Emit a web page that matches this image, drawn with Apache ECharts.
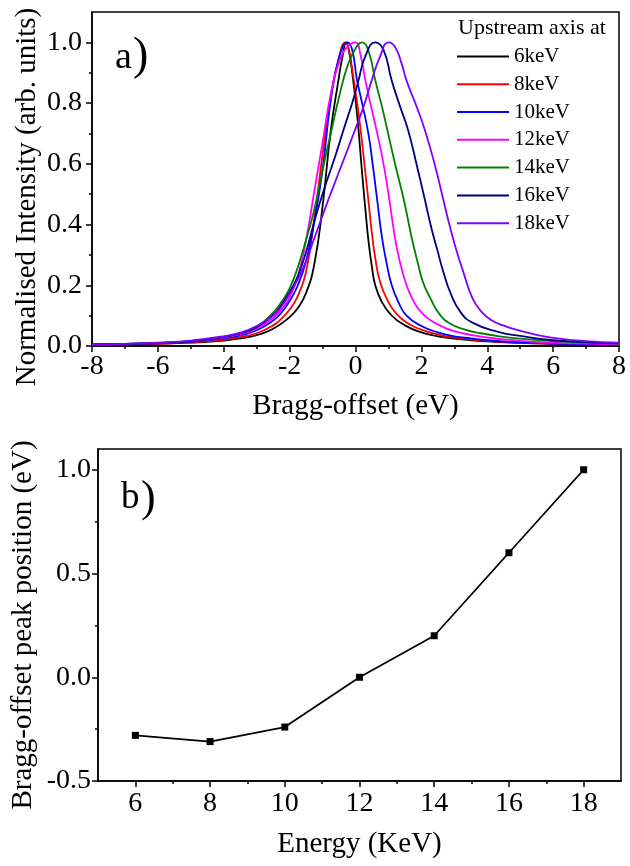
<!DOCTYPE html>
<html>
<head>
<meta charset="utf-8">
<script src="https://cdn.jsdelivr.net/npm/echarts@6/dist/echarts.min.js"></script>
<style>
html,body{margin:0;padding:0;background:#fff;}
#chart{width:630px;height:866px;}
</style>
</head>
<body>
<div id="chart"></div>
<script>
// ---------- Panel a: tick labels ----------
const xTicksA = [-8, -6, -4, -2, 0, 2, 4, 6, 8];
const xMinorA = [-7, -5, -3, -1, 1, 3, 5, 7];
const yTicksA = [0, 0.2, 0.4, 0.6, 0.8, 1.0];
const yMinorA = [0.1, 0.3, 0.5, 0.7, 0.9];

// ---------- Panel a: curves [Bragg-offset (eV), normalised intensity] ----------
const seriesNamesA = ['6keV', '8keV', '10keV', '12keV', '14keV', '16keV', '18keV'];
const curve6keV = [[-8,0.004],[-7,0.005],[-6,0.007],[-5,0.011],[-4,0.018],[-3.5,0.025],[-3,0.036],[-2.5,0.057],[-2,0.095],[-1.75,0.125],[-1.5,0.175],[-1.25,0.27],[-1.0,0.46],[-0.75,0.71],[-0.52,0.874],[-0.4,0.95],[-0.28,1.0],[-0.18,0.96],[-0.1,0.9],[0.05,0.76],[0.2,0.57],[0.3,0.45],[0.4,0.34],[0.5,0.26],[0.6,0.2],[0.8,0.145],[1.1,0.1],[1.5,0.068],[2,0.045],[2.5,0.032],[3,0.024],[4,0.015],[5,0.01],[6,0.007],[7,0.005],[8,0.004]];
const curve8keV = [[-8,0.004],[-7,0.005],[-6,0.008],[-5,0.012],[-4,0.021],[-3.5,0.029],[-3,0.042],[-2.5,0.068],[-2.25,0.09],[-2,0.12],[-1.75,0.165],[-1.5,0.245],[-1.25,0.42],[-1.0,0.63],[-0.75,0.82],[-0.5,0.95],[-0.31,1.0],[-0.2,0.975],[-0.1,0.91],[0.1,0.76],[0.25,0.62],[0.39,0.48],[0.5,0.37],[0.6,0.29],[0.75,0.21],[1.0,0.145],[1.25,0.105],[1.6,0.074],[2,0.054],[2.5,0.038],[3,0.028],[4,0.017],[5,0.011],[6,0.008],[7,0.006],[8,0.004]];
const curve10keV = [[-8,0.005],[-7,0.006],[-6,0.009],[-5,0.014],[-4,0.025],[-3.5,0.035],[-3,0.052],[-2.5,0.084],[-2.25,0.11],[-2,0.148],[-1.75,0.2],[-1.5,0.28],[-1.25,0.41],[-1.0,0.58],[-0.75,0.81],[-0.5,0.95],[-0.24,1.0],[-0.1,0.975],[0.04,0.88],[0.2,0.8],[0.39,0.7],[0.52,0.6],[0.66,0.48],[0.8,0.36],[0.95,0.27],[1.1,0.2],[1.3,0.145],[1.55,0.1],[2,0.066],[2.5,0.045],[3,0.032],[3.5,0.025],[4,0.019],[5,0.012],[6,0.008],[7,0.006],[8,0.005]];
const curve12keV = [[-8,0.005],[-7,0.007],[-6,0.01],[-5,0.016],[-4,0.028],[-3.5,0.039],[-3,0.058],[-2.5,0.092],[-2.25,0.12],[-2,0.16],[-1.75,0.23],[-1.5,0.35],[-1.25,0.51],[-1.0,0.67],[-0.75,0.83],[-0.5,0.935],[-0.25,0.985],[0,1.0],[0.15,0.96],[0.3,0.875],[0.45,0.8],[0.64,0.71],[0.85,0.6],[1.03,0.48],[1.15,0.39],[1.3,0.3],[1.55,0.2],[1.8,0.14],[2.05,0.105],[2.3,0.083],[2.75,0.058],[3.25,0.042],[4,0.028],[5,0.017],[6,0.011],[7,0.008],[8,0.006]];
const curve14keV = [[-8,0.005],[-7,0.007],[-6,0.01],[-5,0.016],[-4,0.03],[-3.5,0.042],[-3,0.063],[-2.5,0.11],[-2.25,0.145],[-2,0.19],[-1.75,0.26],[-1.5,0.35],[-1.25,0.45],[-1.0,0.58],[-0.75,0.7],[-0.5,0.82],[-0.25,0.92],[0,0.98],[0.2,1.0],[0.4,0.97],[0.6,0.875],[0.8,0.79],[0.97,0.71],[1.2,0.6],[1.47,0.48],[1.7,0.36],[1.9,0.27],[2.05,0.21],[2.26,0.16],[2.55,0.105],[2.87,0.074],[3.3,0.055],[3.8,0.042],[4.5,0.03],[5,0.024],[6,0.016],[7,0.011],[8,0.008]];
const curve16keV = [[-8,0.005],[-7,0.007],[-6,0.01],[-5,0.016],[-4,0.03],[-3.5,0.042],[-3,0.062],[-2.5,0.102],[-2.25,0.135],[-2,0.178],[-1.75,0.23],[-1.5,0.31],[-1.25,0.41],[-1.06,0.48],[-0.85,0.55],[-0.6,0.63],[-0.37,0.71],[-0.1,0.8],[0.09,0.874],[0.3,0.955],[0.6,1.0],[0.85,0.975],[1.1,0.874],[1.35,0.79],[1.6,0.71],[1.85,0.6],[2.11,0.48],[2.3,0.39],[2.5,0.31],[2.65,0.25],[2.9,0.17],[3.2,0.11],[3.55,0.077],[4.3,0.047],[5,0.033],[6,0.019],[7,0.013],[8,0.009]];
const curve18keV = [[-8,0.005],[-7,0.007],[-6,0.011],[-5,0.018],[-4,0.032],[-3.5,0.044],[-3,0.066],[-2.5,0.1],[-2.25,0.13],[-2,0.172],[-1.75,0.22],[-1.5,0.28],[-1.25,0.355],[-1.0,0.43],[-0.83,0.48],[-0.55,0.56],[-0.3,0.63],[-0.02,0.71],[0.25,0.79],[0.49,0.874],[0.75,0.955],[1.0,1.0],[1.2,0.985],[1.4,0.93],[1.55,0.874],[1.85,0.79],[2.11,0.71],[2.4,0.6],[2.67,0.48],[2.85,0.4],[3.05,0.32],[3.27,0.245],[3.56,0.155],[3.85,0.11],[4.13,0.085],[4.5,0.067],[4.9,0.053],[5.5,0.037],[6,0.027],[7,0.016],[8,0.011]];
const curvesA = [curve6keV, curve8keV, curve10keV, curve12keV, curve14keV, curve16keV, curve18keV];
const coloursA = ['#000000', '#ff0000', '#0000ff', '#ff00ff', '#008000', '#000080', '#8000ff'];

// ---------- Panel b ----------
const energies = [6, 8, 10, 12, 14, 16, 18];
const peakPositions = [-0.28, -0.31, -0.24, 0.0, 0.2, 0.6, 1.0];
const xTicksB = [6, 8, 10, 12, 14, 16, 18];
const xMinorB = [7, 9, 11, 13, 15, 17];
const yTicksB = [-0.5, 0.0, 0.5, 1.0];
const yMinorB = [-0.25, 0.25, 0.75];

const FONT = "'Liberation Serif','Times New Roman',serif";
const BLACK = '#000';

function majorAxis(opts) {
  return {
    gridIndex: opts.grid, type: 'value', min: opts.min, max: opts.max,
    position: opts.position,
    axisLine: { show: true, onZero: false, lineStyle: { color: BLACK, width: 1.5 } },
    axisTick: { show: true, inside: false, length: 6, customValues: opts.ticks, lineStyle: { color: BLACK, width: 1.5 } },
    axisLabel: { show: true, customValues: opts.ticks, margin: opts.margin, fontSize: 28, fontFamily: FONT, color: BLACK, formatter: opts.fmt },
    splitLine: { show: false },
    name: opts.name, nameLocation: 'middle', nameGap: opts.nameGap, nameMoveOverlap: false,
    nameTextStyle: { fontSize: 29, fontFamily: FONT, color: BLACK, padding: opts.namePad || 0 }
  };
}
function minorAxis(opts) {
  return {
    gridIndex: opts.grid, type: 'value', min: opts.min, max: opts.max,
    position: opts.position,
    axisLine: { show: false, onZero: false },
    axisTick: { show: true, inside: false, length: 3, customValues: opts.ticks, lineStyle: { color: BLACK, width: 1.5 } },
    axisLabel: { show: false },
    splitLine: { show: false }
  };
}

const oneDec = v => v.toFixed(1);
const intFmt = v => String(v);

const seriesA = seriesNamesA.map((n, i) => ({
  name: n, type: 'line', xAxisIndex: 0, yAxisIndex: 0,
  data: curvesA[i], showSymbol: false, symbol: 'none',
  smooth: 0.5,
  lineStyle: { color: coloursA[i], width: 1.8 },
  itemStyle: { color: coloursA[i] },
  z: 10 + i
}));

const option = {
  animation: false,
  backgroundColor: '#fff',
  textStyle: { fontFamily: FONT },
  title: [{
    text: 'Upstream axis at', left: 458, top: 17, padding: 0,
    textStyle: { fontSize: 22, fontWeight: 'normal', fontFamily: FONT, color: BLACK }
  }],
  legend: {
    data: seriesNamesA, orient: 'vertical', left: 457, top: 42.5, padding: 0,
    icon: 'rect', itemWidth: 52, itemHeight: 2, itemGap: 0, selectedMode: false,
    textStyle: { fontSize: 21, fontFamily: FONT, color: BLACK, lineHeight: 27.8 }
  },
  graphic: [
    { type: 'text', left: 115, top: 39, style: { text: 'a', font: "38px 'Liberation Serif'", fill: BLACK } },
    { type: 'text', left: 133, top: 34, style: { text: ')', font: "46px 'Liberation Serif'", fill: BLACK } },
    { type: 'text', left: 121, top: 479.5, style: { text: 'b', font: "37px 'Liberation Serif'", fill: BLACK } },
    { type: 'text', left: 141, top: 477.5, style: { text: ')', font: "44px 'Liberation Serif'", fill: BLACK } }
  ],
  grid: [
    { left: 92, top: 12, width: 527, height: 334, show: true, borderColor: BLACK, borderWidth: 1.5, backgroundColor: 'transparent', outerBoundsMode: 'none', containLabel: false },
    { left: 98, top: 449, width: 523, height: 332, show: true, borderColor: BLACK, borderWidth: 1.5, backgroundColor: 'transparent', outerBoundsMode: 'none', containLabel: false }
  ],
  xAxis: [
    majorAxis({ grid: 0, min: -8, max: 8, position: 'bottom', ticks: xTicksA, margin: 7, fmt: intFmt, name: 'Bragg-offset (eV)', nameGap: 46 }),
    minorAxis({ grid: 0, min: -8, max: 8, position: 'bottom', ticks: xMinorA }),
    majorAxis({ grid: 1, min: 5, max: 19, position: 'bottom', ticks: xTicksB, margin: 9, fmt: intFmt, name: 'Energy (KeV)', nameGap: 49 }),
    minorAxis({ grid: 1, min: 5, max: 19, position: 'bottom', ticks: xMinorB })
  ],
  yAxis: [
    majorAxis({ grid: 0, min: 0, max: 1.1, position: 'left', ticks: yTicksA, margin: 10, fmt: oneDec, name: 'Normalised Intensity (arb. units)', nameGap: 50, namePad: [0, 36, 0, 0] }),
    minorAxis({ grid: 0, min: 0, max: 1.1, position: 'left', ticks: yMinorA }),
    majorAxis({ grid: 1, min: -0.5, max: 1.1, position: 'left', ticks: yTicksB, margin: 7, fmt: oneDec, name: 'Bragg-offset peak position (eV)', nameGap: 60, namePad: [0, 20, 0, 0] }),
    minorAxis({ grid: 1, min: -0.5, max: 1.1, position: 'left', ticks: yMinorB })
  ],
  series: seriesA.concat([{
    name: 'peak', type: 'line', xAxisIndex: 2, yAxisIndex: 2,
    data: energies.map((e, i) => [e, peakPositions[i]]),
    symbol: 'rect', symbolSize: 7, showSymbol: true,
    lineStyle: { color: BLACK, width: 1.8 }, itemStyle: { color: BLACK }
  }])
};

const chart = echarts.init(document.getElementById('chart'), null, { renderer: 'canvas', width: 630, height: 866 });
chart.setOption(option);
</script>
</body>
</html>
